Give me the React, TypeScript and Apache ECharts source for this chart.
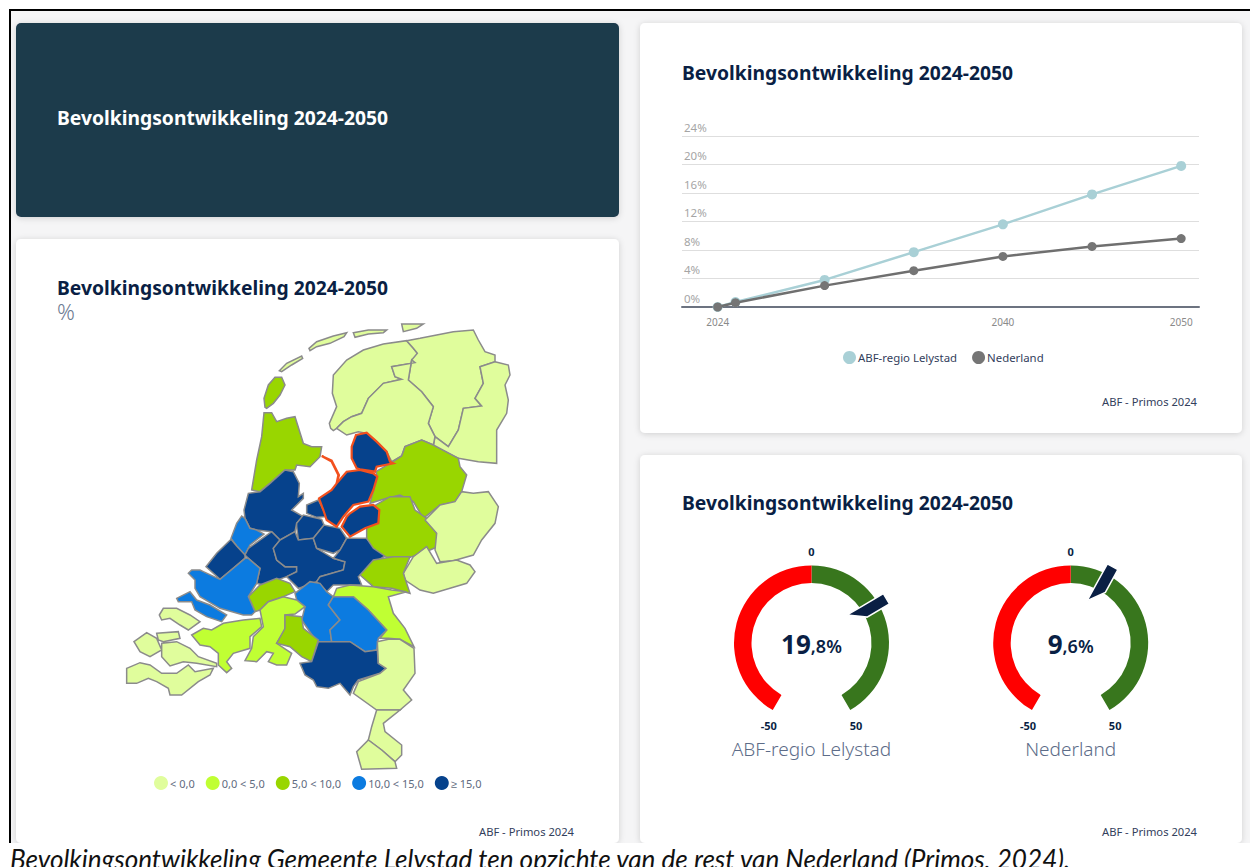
import React, { useEffect, useRef } from "react";
import * as echarts from "echarts";

const FONT = "'Noto Sans', sans-serif";
const TITLE = "Bevolkingsontwikkeling 2024-2050";
const SOURCE = "ABF - Primos 2024";
const CAPTION = "Bevolkingsontwikkeling Gemeente Lelystad ten opzichte van de rest van Nederland (Primos, 2024).";

const years = [2024, 2025, 2030, 2035, 2040, 2045, 2050];
const lelystadValues = [0, 0.7, 3.8, 7.7, 11.6, 15.8, 19.8];
const nederlandValues = [0, 0.6, 3.0, 5.1, 7.1, 8.5, 9.6];
const yearLabels = [2024, 2040, 2050];

const gaugeNames = ["ABF-regio Lelystad", "Nederland"];
const gaugeValues = [19.8, 9.6];

const legendLabels = ["< 0,0", "0,0 < 5,0", "5,0 < 10,0", "10,0 < 15,0", "≥ 15,0"];
const legendColors = ["#e0fd9c", "#c0ff33", "#99d600", "#0c7be0", "#06428c"];

// Region shapes: traced outline units (3 units per page pixel)
const regionShapes: Record<string, number[][]> = {
  Friesland: [
    [632,325,628,310,650,260,637,220,640,165,680,120,730,90,790,72,860,62,880,85,892,100,885,128,815,140,825,170,845,178,790,190,745,235,725,280,695,290,670,305,650,325,640,332],
    [478,152,500,130,545,108,548,115,515,135,485,155],
    [567,85,590,65,640,48,680,38,672,50,630,70,590,80,570,92],
    [700,38,745,30,800,30,790,38,745,42,705,52],
    [845,12,910,12,890,25,850,35],
  ],
  Groningen: [[860,62,900,55,950,45,1000,35,1060,30,1075,60,1095,95,1125,105,1125,125,1080,140,1090,190,1065,235,1085,258,1030,265,1015,330,985,380,945,350,925,310,940,260,905,215,865,180,875,120,892,100,880,85]],
  Drenthe: [[1125,125,1165,135,1170,165,1155,195,1165,240,1160,280,1130,330,1130,430,1075,425,1015,415,940,378,945,350,985,380,1015,330,1030,265,1085,258,1065,235,1090,190,1080,140]],
  "Zuidoost-Friesland": [[815,140,885,128,875,120,865,180,905,215,940,260,925,310,945,350,940,375,905,360,855,380,845,408,815,425,800,395,770,365,740,340,715,335,680,345,650,325,670,305,695,290,725,280,745,235,790,190,845,178,825,170]],
  "Noord-Holland Noord": [
    [432,278,455,278,470,305,500,295,525,290,550,370,575,380,605,380,600,410,570,440,530,435,525,450,495,450,450,490,420,515,395,510,410,420,425,350],
    [435,262,432,235,445,195,465,172,485,172,495,195,480,225,460,250,440,265],
  ],
  Amsterdam: [[495,450,520,455,538,490,535,530,550,520,550,535,515,570,550,590,530,610,525,635,480,660,455,635,410,630,390,625,375,595,372,570,385,520,420,515,450,490]],
  Kennemerland: [[365,588,375,595,390,625,410,630,432,642,390,675,375,705,350,678,333,655,350,610]],
  "Den Haag": [[333,658,350,678,375,705,375,715,340,745,300,778,258,740,290,700]],
  Almere: [[560,580,560,555,595,540,620,590,590,592]],
  Gooi: [[530,610,550,585,605,598,612,615,580,655,535,660,530,620]],
  Leiden: [[385,685,455,635,480,660,460,685,470,720,495,740,530,740,530,755,500,770,430,795,410,790,420,745,385,715,375,705]],
  Utrecht: [[460,685,480,660,525,635,535,660,580,655,590,685,640,715,675,725,670,750,600,770,590,785,535,805,500,770,530,755,530,740,495,740,470,720]],
  Amersfoort: [[580,655,612,615,660,625,680,655,660,690,640,700,590,685]],
  Ede: [[680,655,740,655,760,680,800,705,760,730,715,770,725,795,640,795,620,815,590,785,600,770,670,750,675,725,640,715,660,690]],
  Overijssel: [[845,408,855,380,905,360,940,375,1015,415,1020,440,1040,465,1025,515,1005,545,960,555,910,595,880,545,840,525,800,535,750,550,772,470,768,455,810,430]],
  Veluwe: [[750,565,810,530,870,530,885,570,920,595,950,640,965,675,930,690,870,712,800,712,760,685,740,655,740,625,775,600]],
  Twente: [[915,600,960,555,1005,545,1025,515,1060,520,1105,515,1135,560,1125,610,1085,660,1060,705,1000,722,960,725,945,690,950,640]],
  Achterhoek: [[850,760,880,710,920,680,950,730,1010,720,1050,735,1065,755,1040,790,990,805,940,820,900,810,855,780]],
  Arnhem: [[720,765,760,720,820,710,870,710,850,760,870,820,815,805,760,800]],
  Nijmegen: [[640,830,650,805,690,795,760,800,815,810,860,815,805,830,820,880,855,925,882,980,840,958,805,955,780,955,800,930,745,870,700,830,650,835]],
  "Den Bosch": [[525,820,570,785,600,790,620,815,640,830,625,855,660,900,630,930,635,965,590,965,545,900,555,860,530,840]],
  "Noordoost-Brabant": [[625,855,640,830,700,830,745,870,800,930,775,955,770,990,735,995,690,965,635,965,630,930,660,900]],
  Gorinchem: [[385,830,420,795,470,775,510,790,525,815,490,830,445,845,420,870,405,875]],
  Rotterdam: [[205,760,215,750,240,750,250,755,300,778,375,715,385,715,420,745,410,790,385,830,405,875,395,885,370,885,300,865,240,830,225,805,225,780]],
  "Voorne-Flakkee": [[170,835,210,815,230,840,270,855,320,885,305,905,260,890,225,870,215,845,175,845]],
  Zeeland: [
    [118,885,130,865,170,865,210,885,240,905,205,930,180,915,150,895,125,900],
    [42,965,80,938,110,955,125,990,90,1010,60,995],
    [110,940,175,935,180,955,130,965,115,960],
    [125,970,170,965,210,985,235,1010,290,1030,290,1040,230,1030,190,1025,150,1038,125,1010],
    [20,1045,60,1028,90,1035,125,1060,170,1060,205,1035,225,1055,280,1045,270,1065,235,1085,185,1125,150,1125,145,1105,110,1085,85,1075,50,1090,20,1090],
  ],
  "West-Brabant": [[215,945,250,925,275,930,310,910,370,900,420,895,425,920,390,950,390,985,340,1000,320,1025,335,1045,320,1058,295,1035,295,1000,270,980,240,975]],
  "Midden-Brabant": [[420,870,445,845,490,830,530,840,555,860,525,882,495,885,495,930,470,970,515,1000,500,1035,470,1035,445,1025,460,1000,440,995,410,1025,375,1022,395,985,400,950,430,920]],
  Tilburg: [[495,885,545,890,550,925,595,960,575,1025,545,1010,510,980,470,970,495,925]],
  Eindhoven: [[540,1030,575,1025,595,965,635,965,690,965,735,995,772,990,775,1030,798,1045,780,1060,715,1080,700,1100,690,1125,660,1090,625,1105,590,1100,580,1080,555,1065]],
  "Noord-Limburg": [[772,965,805,958,840,958,882,985,885,1060,850,1110,875,1140,840,1170,770,1170,700,1120,715,1085,780,1060,798,1045,775,1030]],
  "Midden-Limburg": [[770,1170,840,1170,790,1210,795,1235,845,1275,845,1305,825,1325,785,1290,745,1260,755,1220]],
  "Zuid-Limburg": [[745,1260,785,1290,825,1325,830,1345,725,1348,710,1295]],
  Markermeer: [[605,408,635,422,657,465,650,490,655,465,635,425]],
  Noordoostpolder: [[708,345,740,338,770,365,800,395,810,425,820,430,770,440,765,455,720,448,710,445,695,415,695,380]],
  "Zuid-Flevoland": [[690,580,720,560,760,555,778,570,775,610,735,625,690,650,665,620,680,590]],
  Lelystad: [[772,470,760,510,745,545,700,555,670,590,650,620,620,600,610,570,597,535,635,510,650,490,680,455,720,450,760,460]],
};

const regionNames = Object.keys(regionShapes);
const regionValues = [-2, -3, -4, -2, 8, 16, 12, 16, 17, 16, 17, 16, 17, 16, 7, 8, -1, -2, 7, 3, 12, 13, 8, 12, 12, -3, 3, 3, 8, 16, -2, -4, -5, 18, 19, 17, 19.8];
const orangeRegions = ["Markermeer", "Noordoostpolder", "Zuid-Flevoland", "Lelystad"];

const MAP_X = 120;
const MAP_Y = 320;
const UNITS = 3;

function buildGeoJson() {
  return {
    type: "FeatureCollection",
    features: regionNames.map((name) => ({
      type: "Feature",
      properties: { name },
      geometry: {
        type: "MultiPolygon",
        coordinates: regionShapes[name].map((flat) => {
          const ring: number[][] = [];
          for (let i = 0; i < flat.length; i += 2) ring.push([flat[i], -flat[i + 1]]);
          ring.push(ring[0]);
          return [ring];
        }),
      },
    })),
  };
}

function mapBox() {
  let x0 = 1e9, x1 = -1e9, y0 = 1e9, y1 = -1e9;
  Object.values(regionShapes).forEach((polys) =>
    polys.forEach((flat) => {
      for (let i = 0; i < flat.length; i += 2) {
        x0 = Math.min(x0, flat[i]); x1 = Math.max(x1, flat[i]);
        y0 = Math.min(y0, flat[i + 1]); y1 = Math.max(y1, flat[i + 1]);
      }
    })
  );
  return { left: MAP_X + x0 / UNITS, top: MAP_Y + y0 / UNITS, width: (x1 - x0) / UNITS, height: (y1 - y0) / UNITS };
}

const card = (x: number, y: number, width: number, height: number, fill: string) => ({
  type: "rect",
  silent: true,
  shape: { x, y, width, height, r: 5 },
  style: { fill, shadowBlur: 6, shadowColor: "rgba(0,0,0,0.16)", shadowOffsetY: 1 },
});

const heading = (left: number, top: number, color: string) => ({
  text: TITLE,
  left,
  top,
  padding: 0,
  textStyle: { color, fontFamily: FONT, fontSize: 19.3, fontWeight: 700 },
});

const source = (right: number, top: number) => ({
  text: SOURCE,
  right,
  top,
  padding: 0,
  textStyle: { color: "#33405c", fontFamily: FONT, fontSize: 11.2, fontWeight: 400 },
});

const gauge = (i: number, cx: number) => ({
  type: "gauge",
  center: [cx, 643],
  radius: 77.5,
  startAngle: 240,
  endAngle: -60,
  min: -50,
  max: 50,
  splitNumber: 2,
  axisLine: { lineStyle: { width: 17.5, color: [[0.5, "#ff0000"], [1, "#38761d"]] } },
  axisTick: { show: false },
  splitLine: { show: true, length: 18, distance: 0, lineStyle: { color: "#ffffff", width: 1 } },
  axisLabel: {
    distance: -42,
    padding: [4, 0, 0, 0],
    color: "#0a1f44",
    fontFamily: FONT,
    fontSize: 11,
    fontWeight: 700,
    formatter: (v: number) => String(v),
  },
  pointer: {
    icon: "path://M0,0L10,0L10,26L0,42L0,26Z",
    length: 42,
    width: 12,
    offsetCenter: [0, -45],
    itemStyle: { color: "#0a1f44", borderColor: "#ffffff", borderWidth: 1.5 },
  },
  anchor: { show: false },
  title: { offsetCenter: [0, 106], color: "#5d6c88", fontFamily: FONT, fontSize: 19, fontWeight: 300 },
  detail: {
    offsetCenter: [0, 1],
    valueAnimation: false,
    formatter: (v: number) => {
      const [a, b] = v.toFixed(1).split(".");
      return `{i|${a}}{d|,${b}%}`;
    },
    rich: {
      i: { fontFamily: FONT, fontSize: 26, fontWeight: 700, color: "#0a1f44" },
      d: { fontFamily: FONT, fontSize: 18, fontWeight: 600, color: "#0a1f44", padding: [3, 0, 0, 0] },
    },
  },
  data: [{ name: gaugeNames[i], value: gaugeValues[i] }],
});

export default function App() {
  const ref = useRef<HTMLDivElement>(null);
  useEffect(() => {
    document.body.style.margin = "0";
    document.body.style.overflow = "hidden";
    echarts.registerMap("nl-regions", buildGeoJson() as any);
    const chart = echarts.init(ref.current!, null, { renderer: "svg" });
    const box = mapBox();
    chart.setOption({
      animation: false,
      backgroundColor: "#ffffff",
      graphic: [
        { type: "rect", silent: true, shape: { x: 11, y: 11, width: 1239, height: 832 }, style: { fill: "#f5f5f6" } },
        { type: "rect", silent: true, shape: { x: 9, y: 9, width: 1241, height: 2 }, style: { fill: "#000000" } },
        { type: "rect", silent: true, shape: { x: 9, y: 9, width: 2, height: 834 }, style: { fill: "#000000" } },
        card(16, 23, 603, 194, "#1f3a4c"),
        card(16, 239, 603, 604, "#ffffff"),
        card(640, 23, 602, 410, "#ffffff"),
        card(640, 455, 602, 388, "#ffffff"),
        { type: "rect", silent: true, shape: { x: 0, y: 843, width: 1250, height: 24 }, style: { fill: "#ffffff" } },
      ],
      title: [
        heading(57, 108, "#ffffff"),
        heading(57, 278, "#0a1f44"),
        heading(682, 63, "#0a1f44"),
        heading(682, 493, "#0a1f44"),
        { text: "%", left: 57, top: 300, padding: 0, textStyle: { color: "#6d7b92", fontFamily: FONT, fontSize: 22, fontWeight: 300 } },
        source(676, 826),
        source(53, 396),
        source(53, 826),
        {
          text: CAPTION,
          left: 10,
          top: 846,
          padding: 0,
          textStyle: { color: "#111111", fontFamily: "Lato, sans-serif", fontSize: 26.1, fontWeight: 400, fontStyle: "italic" },
        },
      ],
      grid: { left: 682, top: 136, width: 517, height: 171 },
      xAxis: {
        type: "value",
        min: 2022,
        max: 2051,
        axisLine: { show: true, lineStyle: { color: "#6c7380", width: 2 } },
        axisTick: { show: false },
        splitLine: { show: false },
        axisLabel: {
          customValues: yearLabels,
          formatter: (v: number) => String(v),
          color: "#8a8a8a",
          fontFamily: FONT,
          fontSize: 10,
          margin: 10,
        },
      },
      yAxis: {
        type: "value",
        min: 0,
        max: 24,
        interval: 4,
        axisLine: { show: false },
        axisTick: { show: false },
        splitLine: { lineStyle: { color: "#dedede", width: 1 } },
        axisLabel: {
          inside: true,
          margin: 2,
          verticalAlign: "bottom",
          padding: [0, 0, 3, 0],
          formatter: "{value}%",
          color: "#a5a5a5",
          fontFamily: FONT,
          fontSize: 11.5,
        },
      },
      legend: {
        left: 843,
        top: 351,
        padding: 0,
        itemGap: 15,
        itemWidth: 13,
        itemHeight: 13,
        icon: "circle",
        textStyle: { color: "#33405c", fontFamily: FONT, fontSize: 11.4, padding: [0, 0, 0, -3] },
        data: ["ABF-regio Lelystad", "Nederland"],
      },
      visualMap: {
        type: "piecewise",
        seriesIndex: 2,
        orient: "horizontal",
        left: 154,
        top: 776,
        padding: 0,
        itemWidth: 14,
        itemHeight: 14,
        itemSymbol: "circle",
        itemGap: 11,
        textGap: 2,
        selectedMode: false,
        hoverLink: false,
        textStyle: { color: "#5f6b80", fontFamily: FONT, fontSize: 11 },
        pieces: [
          { lt: 0, label: legendLabels[0], color: legendColors[0] },
          { gte: 0, lt: 5, label: legendLabels[1], color: legendColors[1] },
          { gte: 5, lt: 10, label: legendLabels[2], color: legendColors[2] },
          { gte: 10, lt: 15, label: legendLabels[3], color: legendColors[3] },
          { gte: 15, label: legendLabels[4], color: legendColors[4] },
        ],
      },
      series: [
        {
          type: "line",
          name: "ABF-regio Lelystad",
          data: years.map((y, i) => [y, lelystadValues[i]]),
          symbol: "circle",
          symbolSize: 10,
          lineStyle: { color: "#a9d0d6", width: 2.5 },
          itemStyle: { color: "#a9d0d6" },
          z: 3,
        },
        {
          type: "line",
          name: "Nederland",
          data: years.map((y, i) => [y, nederlandValues[i]]),
          symbol: "circle",
          symbolSize: 9,
          lineStyle: { color: "#6f6f6f", width: 2.5 },
          itemStyle: { color: "#757575" },
          z: 4,
        },
        {
          type: "map",
          map: "nl-regions",
          aspectScale: 1,
          roam: false,
          showLegendSymbol: false,
          left: box.left,
          top: box.top,
          width: box.width,
          height: box.height,
          silent: true,
          label: { show: false },
          itemStyle: { borderColor: "#8b8b8b", borderWidth: 1.5 },
          data: regionNames.map((name, i) => ({
            name,
            value: regionValues[i],
            ...(orangeRegions.includes(name)
              ? { itemStyle: { borderColor: "#f2501e", borderWidth: 2.2 } }
              : {}),
          })),
        },
        gauge(0, 811.5),
        gauge(1, 1070.7),
      ],
    } as any);
    return () => chart.dispose();
  }, []);
  return <div ref={ref} style={{ position: "absolute", left: 0, top: 0, width: 1250, height: 867, overflow: "hidden" }} />;
}
